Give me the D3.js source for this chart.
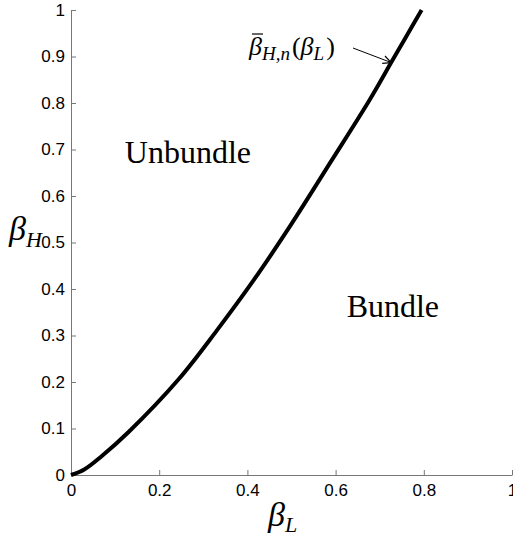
<!DOCTYPE html>
<html>
<head>
<meta charset="utf-8">
<script src="https://cdn.jsdelivr.net/npm/d3@7"></script>
<style>
  body { margin: 0; background: #fff; }
  svg { display: block; }
</style>
</head>
<body>
<div id="grafico"></div>
<script>
// valori (betaL, betaH lungo la curva di soglia)
var betaL = [0, 0.03, 0.07, 0.13, 0.245, 0.33, 0.415, 0.5, 0.59, 0.676, 0.726, 0.756, 0.795];
var betaH = [0, 0.012, 0.041, 0.092, 0.207, 0.31, 0.42, 0.54, 0.675, 0.805, 0.887, 0.936, 1.0];

var xTicks = [0, 0.2, 0.4, 0.6, 0.8, 1];
var yTicks = [0, 0.1, 0.2, 0.3, 0.4, 0.5, 0.6, 0.7, 0.8, 0.9, 1];

var regioni = ["Unbundle", "Bundle"];

var width = 513, height = 539;

var svg = d3.select("#grafico")
  .append("svg")
  .attr("width", width)
  .attr("height", height);

var x = d3.scaleLinear().domain([0, 1]).range([71, 512]);
var y = d3.scaleLinear().domain([0, 1]).range([475, 10]);

var fmt = function(d) { return d3.format("")(+d.toFixed(1)); };

// asse x
var gx = svg.append("g")
  .attr("transform", "translate(0," + y(0) + ")")
  .call(d3.axisBottom(x).tickValues(xTicks).tickFormat(fmt)
    .tickSizeInner(-5).tickSizeOuter(0).tickPadding(9));

// asse y
var gy = svg.append("g")
  .attr("transform", "translate(" + x(0) + ",0)")
  .call(d3.axisLeft(y).tickValues(yTicks).tickFormat(fmt)
    .tickSizeInner(-5).tickSizeOuter(0).tickPadding(6));

[gx, gy].forEach(function(g) {
  g.selectAll(".domain").attr("stroke", "#777");
  g.selectAll(".tick line").attr("stroke", "#777");
  g.selectAll(".tick text")
    .attr("fill", "#000")
    .style("font-family", "'Liberation Sans', Arial, sans-serif")
    .style("font-size", "17px");
});

// curva
var punti = betaL.map(function(d, i) { return [d, betaH[i]]; });
var line = d3.line()
  .x(function(d) { return x(d[0]); })
  .y(function(d) { return y(d[1]); })
  .curve(d3.curveCatmullRom.alpha(0.5));

svg.append("path")
  .datum(punti)
  .attr("d", line)
  .style("fill", "none")
  .style("stroke", "#000")
  .style("stroke-width", 4);

// scritte delle regioni
var serif = "'Liberation Serif', 'Times New Roman', serif";
svg.append("text")
  .attr("x", x(0.122)).attr("y", 163)
  .style("font-family", serif).style("font-size", "32px")
  .text(regioni[0]);
svg.append("text")
  .attr("x", x(0.625)).attr("y", 317)
  .style("font-family", serif).style("font-size", "32px")
  .text(regioni[1]);

// etichette assi
var ylab = svg.append("text")
  .attr("x", 9).attr("y", 240)
  .style("font-family", serif).style("font-style", "italic").style("font-size", "34px");
ylab.append("tspan").text("β");
ylab.append("tspan").attr("dy", 7).style("font-size", "22px").text("H");

var xlab = svg.append("text")
  .attr("x", 268).attr("y", 526)
  .style("font-family", serif).style("font-style", "italic").style("font-size", "34px");
xlab.append("tspan").text("β");
xlab.append("tspan").attr("dy", 6).style("font-size", "22px").text("L");

// etichetta della curva con freccia
var lab = svg.append("text")
  .attr("x", 249).attr("y", 55)
  .style("font-family", serif).style("font-style", "italic").style("font-size", "26px");
lab.append("tspan").text("β");
lab.append("tspan").attr("dy", 5).style("font-size", "19px").text("H,n");
lab.append("tspan").attr("dy", -5).attr("dx", 2).style("font-style", "normal").text("(");
lab.append("tspan").text("β");
lab.append("tspan").attr("dy", 5).style("font-size", "19px").text("L");
lab.append("tspan").attr("dy", -5).attr("dx", 2).style("font-style", "normal").text(")");

// barra sopra la prima beta
var bb = lab.node().getExtentOfChar(0);
svg.append("line")
  .attr("x1", bb.x + 3).attr("x2", bb.x + bb.width + 1)
  .attr("y1", bb.y + 2).attr("y2", bb.y + 2)
  .style("stroke", "#000").style("stroke-width", 1.2);

var tip = [x(0.726), y(0.887)];
svg.append("line")
  .attr("x1", 353).attr("y1", 48)
  .attr("x2", tip[0]).attr("y2", tip[1])
  .style("stroke", "#000").style("stroke-width", 1);
// punta della freccia
var ang = Math.atan2(tip[1] - 48, tip[0] - 353);
[0.45, -0.45].forEach(function(a) {
  svg.append("line")
    .attr("x1", tip[0]).attr("y1", tip[1])
    .attr("x2", tip[0] - 9 * Math.cos(ang + a))
    .attr("y2", tip[1] - 9 * Math.sin(ang + a))
    .style("stroke", "#000").style("stroke-width", 1.2);
});
</script>
</body>
</html>
